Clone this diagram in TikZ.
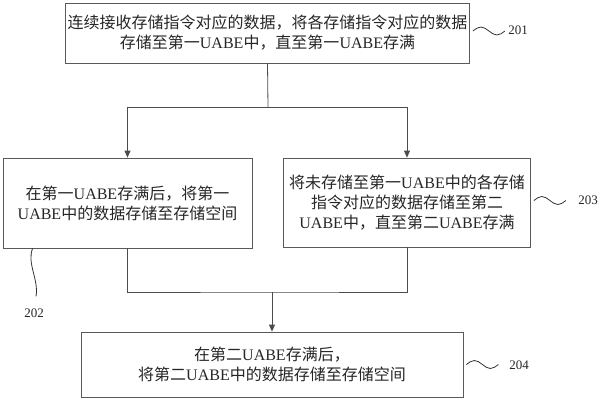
\documentclass[tikz,border=0pt]{standalone}
\usepackage{fontspec}
\setmainfont{Liberation Serif}
\newfontfamily\cjk{Noto Sans CJK SC}
\usetikzlibrary{arrows.meta,positioning}
\newcommand{\uabe}{{\normalfont UABE}}
\tikzset{%
  stepbox/.style={rectangle,draw=black!65,line width=0.8pt,align=center,inner sep=2pt,text=black!85,font=\cjk\fontsize{16}{20}\selectfont},
  tag/.style={inner sep=1pt,text=black!85,font=\fontsize{13}{15}\selectfont},
  flow/.style={draw=black!70,line width=0.8pt},
  wave/.style={draw=black!80,line width=0.8pt}%
}

\begin{document}
\begin{tikzpicture}[x=1pt,y=-1pt,>={Triangle[length=7pt,width=6pt]}]
    \useasboundingbox (0,0) rectangle (600,400);
    \node (s201) [stepbox,minimum width=389pt,minimum height=60pt] at (267.5,33)
      {连续接收存储指令对应的数据，将各存储指令对应的数据\\存储至第一\uabe 中，直至第一\uabe 存满};
    \node (s202) [stepbox,minimum width=249pt,minimum height=90pt] at (127.5,203)
      {在第一\uabe 存满后，将第一\\\uabe 中的数据存储至存储空间};
    \node (s203) [stepbox,minimum width=247pt,minimum height=89pt] at (407,202.5)
      {将未存储至第一\uabe 中的各存储\\指令对应的数据存储至第二\\\uabe 中，直至第二\uabe 存满};
    \node (s204) [stepbox,minimum width=382pt,minimum height=65pt] at (272,364.5)
      {在第二\uabe 存满后，\\将第二\uabe 中的数据存储至存储空间};

    \node (l201) [tag] at (518,30) {201};
    \node (l202) [tag] at (34,313) {202};
    \node (l203) [tag] at (588,200) {203};
    \node (l204) [tag] at (519,365) {204};

    \coordinate (split) at (268,107);
    \coordinate (merge) at (272,292);

    \path[flow] (s201.south) -- (split);
    \path[flow,->] (split) -| (s202.north);
    \path[flow,->] (split) -| (s203.north);
    \path[flow] (s202.south) |- (merge) -| (s203.south);
    \path[flow,->] (merge) -- (s204.north);

    % leader lines to the step numbers
    \path[wave] ([xshift=3pt,yshift=2pt]s201.east) sin ++(8,-4) cos ++(8,4) sin ++(8,4) cos ++(8,-4);
    \path[wave] ([xshift=3pt,yshift=2pt]s203.east) sin ++(8,-4) cos ++(8,4) sin ++(8,4) cos ++(8,-4);
    \path[wave] ([xshift=3pt]s204.east) sin ++(8,-4) cos ++(8,4) sin ++(8,4) cos ++(8,-4);
    \path[wave] ([xshift=30pt]s202.south west) .. controls +(-6,15) and +(3,-17) .. ([xshift=2pt,yshift=11pt]l202.north);
\end{tikzpicture}
\end{document}
